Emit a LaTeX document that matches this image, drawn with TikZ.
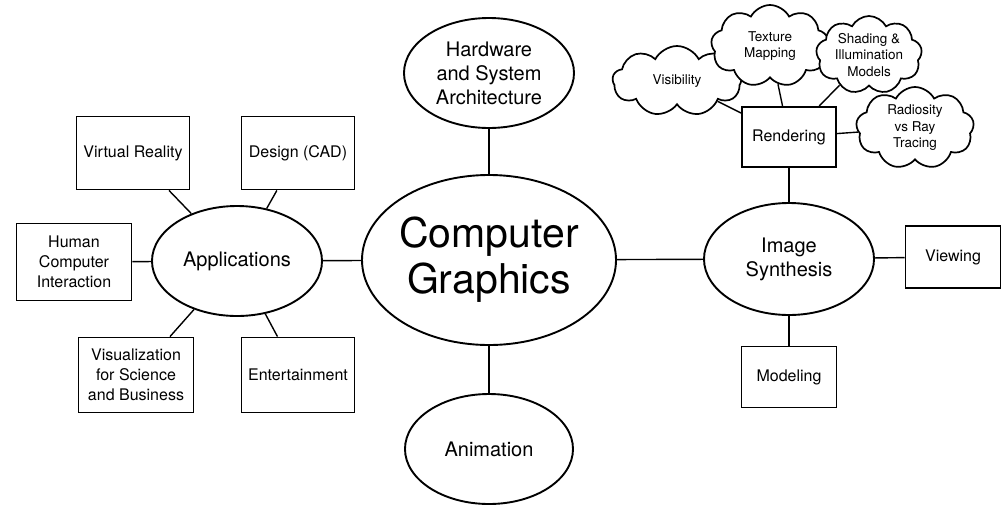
\documentclass[tikz,border=0pt]{standalone}
\usepackage{fontspec}
\setmainfont{TeX Gyre Heros}
\usetikzlibrary{shapes.geometric,shapes.symbols}
\begin{document}
\begin{tikzpicture}[x=1pt,y=-1pt,
  topic/.style={ellipse,draw,line width=1.9pt,fill=white,inner sep=0pt,align=center,
    font=\fontsize{20}{24}\selectfont},
  leaf/.style={rectangle,draw,line width=1.9pt,fill=white,inner sep=0pt,align=center,
    font=\fontsize{16}{20}\selectfont},
  puff/.style={cloud,draw,line width=1.7pt,fill=white,cloud puffs=9,cloud puff arc=125,
    cloud ignores aspect,inner sep=0pt,align=center,font=\fontsize{13.5}{16.5}\selectfont},
  link/.style={line width=1.4pt}]
\useasboundingbox (0,0) rectangle (1003,504);

% central topic and its four branches
\node[topic,minimum width=254pt,minimum height=170pt,font=\fontsize{41}{46}\selectfont]
  (cg) at (489,260) {Computer\\Graphics};
\node[topic,minimum width=170pt,minimum height=110pt] (hw) at (489,73) {Hardware\\and System\\Architecture};
\node[topic,minimum width=168pt,minimum height=110pt] (anim) at (489,449) {Animation};
\node[topic,minimum width=170pt,minimum height=110pt] (app) at (237,261) {Applications};
\node[topic,minimum width=170pt,minimum height=112pt] (img) at (789,259) {Image\\Synthesis};

% application areas
\node[leaf,minimum width=115pt,minimum height=77pt] (hci) at (74,262) {Human\\Computer\\Interaction};
\node[leaf,minimum width=113pt,minimum height=73pt] (vr) at (133,153) {Virtual Reality};
\node[leaf,minimum width=113pt,minimum height=73pt] (cad) at (298,153) {Design (CAD)};
\node[leaf,minimum width=115pt,minimum height=75pt] (visu) at (136,375) {Visualization\\for Science\\and Business};
\node[leaf,minimum width=113pt,minimum height=75pt] (ent) at (298,375) {Entertainment};

% image synthesis parts
\node[leaf,minimum width=95pt,minimum height=62pt] (view) at (953,257) {Viewing};
\node[leaf,minimum width=95pt,minimum height=61pt] (model) at (789,377) {Modeling};

% rendering topics
\node[puff,minimum width=129pt,minimum height=70pt] (visib) at (677,81) {Visibility};
\node[puff,minimum width=118pt,minimum height=82pt] (tex) at (770,46) {Texture\\Mapping};
\node[puff,minimum width=106pt,minimum height=78pt] (shade) at (869,55) {Shading \&\\Illumination\\Models};
\node[puff,minimum width=118pt,minimum height=82pt] (rad) at (915,128) {Radiosity\\vs Ray\\Tracing};
\node[leaf,minimum width=94pt,minimum height=60pt] (rend) at (789,137) {Rendering};

% connectors
\draw[link] (cg) -- (hw);
\draw[link] (cg) -- (anim);
\draw[link] (cg) -- (app);
\draw[link] (cg) -- (img);
\draw[link] (app) -- (hci);
\draw[link] (app) -- (vr);
\draw[link] (app) -- (cad);
\draw[link] (app) -- (visu);
\draw[link] (app) -- (ent);
\draw[link] (img) -- (rend);
\draw[link] (img) -- (view);
\draw[link] (img) -- (model);
\draw[link] (rend) -- (visib);
\draw[link] (rend) -- (tex);
\draw[link] (rend) -- (shade);
\draw[link] (rend) -- (rad);
\end{tikzpicture}
\end{document}
